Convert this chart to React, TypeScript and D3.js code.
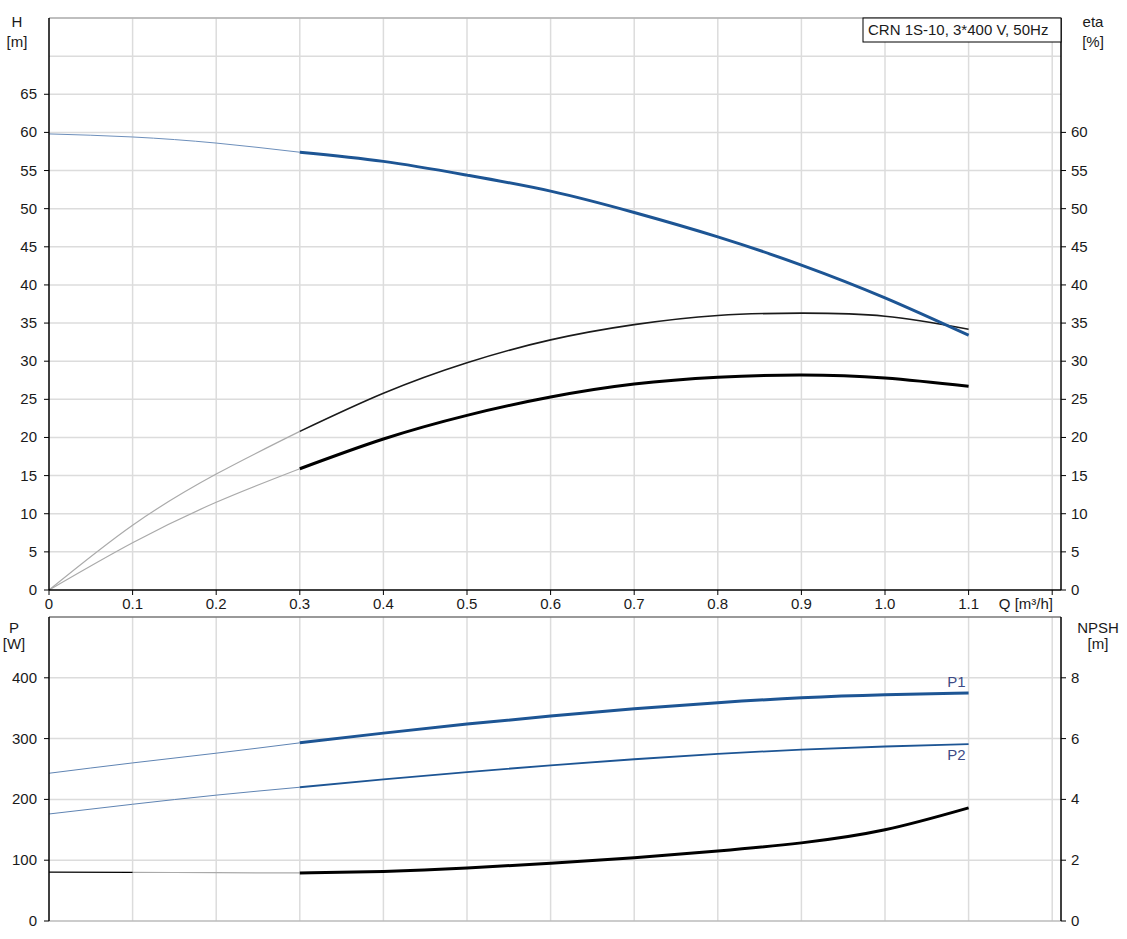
import * as d3 from 'd3'

const qTicks = [0, 0.1, 0.2, 0.3, 0.4, 0.5, 0.6, 0.7, 0.8, 0.9, 1.0, 1.1, 1.2]
const hTicks = [0, 5, 10, 15, 20, 25, 30, 35, 40, 45, 50, 55, 60, 65, 70, 75]
const etaTicks = [0, 5, 10, 15, 20, 25, 30, 35, 40, 45, 50, 55, 60]
const pTicks = [0, 100, 200, 300, 400, 500]
const npshTicks = [0, 2, 4, 6, 8]

// flow points for the main curves
const qThin = [0, 0.1, 0.2, 0.3]
const qMain = [0.3, 0.4, 0.5, 0.6, 0.7, 0.8, 0.9, 1.0, 1.1]

const headThin = [59.8, 59.4, 58.6, 57.4]
const headMain = [57.4, 56.2, 54.4, 52.3, 49.5, 46.3, 42.6, 38.3, 33.4]

const etaPumpThin = [0, 8.5, 15.2, 20.8]
const etaPumpMain = [20.8, 25.8, 29.8, 32.8, 34.8, 36.0, 36.3, 35.9, 34.2]

const etaTotalThin = [0, 6.2, 11.5, 15.9]
const etaTotalMain = [15.9, 19.8, 22.9, 25.3, 27.0, 27.9, 28.2, 27.8, 26.7]

const p1Thin = [243, 260, 276, 293]
const p1Main = [293, 309, 324, 337, 349, 359, 367, 372, 375]

const p2Thin = [176, 192, 207, 220]
const p2Main = [220, 233, 245, 256, 266, 275, 282, 287, 291]

const npshThin = [1.61, 1.6, 1.59, 1.58]
const npshMain = [1.58, 1.63, 1.74, 1.9, 2.08, 2.3, 2.57, 3.0, 3.72]

const FONT = '"Liberation Sans", Arial, sans-serif'
const BLUE = '#1d5594'
const TXT = '#1a1a1a'
const FS = 15

export default function App() {
  const left = 49
  const right = 1061
  const x = d3.scaleLinear().domain([0, (right - left) / 836]).range([left, right])

  const yH = d3.scaleLinear().domain([0, 75]).range([590, 18])
  const yP = d3.scaleLinear().domain([0, 500]).range([921, 617])
  const yN = d3.scaleLinear().domain([0, 10]).range([921, 617])

  const mk = (ys: d3.ScaleLinear<number, number>, qs: number[], vs: number[]) =>
    d3.line<number>()
      .x((_, i) => x(qs[i]))
      .y(v => ys(v))
      .curve(d3.curveNatural)(vs) || ''

  const gridQ = qTicks.filter(q => q > 0)

  return (
    <svg width={1127} height={939} style={{ position: 'absolute', left: 0, top: 0, background: '#fff' }} fontFamily={FONT}>
      {/* ---------- top chart ---------- */}
      <g>
        {gridQ.map(q => (
          <line key={'gq' + q} x1={x(q)} x2={x(q)} y1={18} y2={590} stroke="#dcdcdc" strokeWidth={1.5} />
        ))}
        {hTicks.filter(h => h > 0).map(h => (
          <line key={'gh' + h} x1={left} x2={right} y1={yH(h)} y2={yH(h)} stroke="#dcdcdc" strokeWidth={1.5} />
        ))}
        <line x1={left} x2={right} y1={18} y2={18} stroke="#999" strokeWidth={1} />

        {/* curves */}
        <path d={mk(yH, qThin, etaPumpThin)} fill="none" stroke="#aaa" strokeWidth={1.2} />
        <path d={mk(yH, qThin, etaTotalThin)} fill="none" stroke="#aaa" strokeWidth={1.2} />
        <path d={mk(yH, qThin, headThin)} fill="none" stroke="#6d8fbb" strokeWidth={1} />
        <path d={mk(yH, qMain, etaPumpMain)} fill="none" stroke="#1a1a1a" strokeWidth={1.6} />
        <path d={mk(yH, qMain, etaTotalMain)} fill="none" stroke="#000" strokeWidth={3} />
        <path d={mk(yH, qMain, headMain)} fill="none" stroke={BLUE} strokeWidth={3} />

        {/* axes */}
        <line x1={left} x2={left} y1={18} y2={590} stroke="#000" strokeWidth={1.5} />
        <line x1={right} x2={right} y1={18} y2={590} stroke="#000" strokeWidth={1.5} />
        <line x1={left} x2={right} y1={590} y2={590} stroke="#000" strokeWidth={1.5} />
        {hTicks.filter(h => h <= 65).map(h => (
          <g key={'th' + h}>
            <line x1={left - 5} x2={left} y1={yH(h)} y2={yH(h)} stroke="#000" />
            <text x={37} y={yH(h) + 5} textAnchor="end" fontSize={FS} fill={TXT}>{h}</text>
          </g>
        ))}
        {etaTicks.map(h => (
          <g key={'te' + h}>
            <line x1={right} x2={right + 5} y1={yH(h)} y2={yH(h)} stroke="#000" />
            <text x={1071} y={yH(h) + 5} fontSize={FS} fill={TXT}>{h}</text>
          </g>
        ))}
        {qTicks.map(q => (
          <g key={'tq' + q}>
            <line x1={x(q)} x2={x(q)} y1={590} y2={595} stroke="#000" />
            {q < 1.15 && (
              <text x={x(q)} y={609} textAnchor="middle" fontSize={FS} fill={TXT}>
                {q === 0 ? '0' : q.toFixed(1)}
              </text>
            )}
          </g>
        ))}
        <text x={1053} y={609} textAnchor="end" fontSize={FS} fill={TXT}>Q [m³/h]</text>

        <text x={17} y={27} textAnchor="middle" fontSize={FS} fill={TXT}>H</text>
        <text x={17} y={47} textAnchor="middle" fontSize={FS} fill={TXT}>[m]</text>
        <text x={1093} y={27} textAnchor="middle" fontSize={FS} fill={TXT}>eta</text>
        <text x={1093} y={47} textAnchor="middle" fontSize={FS} fill={TXT}>[%]</text>

        <rect x={863} y={18} width={198} height={24} fill="#fff" stroke="#000" strokeWidth={1} />
        <text x={868} y={35} fontSize={FS} fill={TXT}>CRN 1S-10, 3*400 V, 50Hz</text>
      </g>

      {/* ---------- bottom chart ---------- */}
      <g>
        {gridQ.map(q => (
          <line key={'bq' + q} x1={x(q)} x2={x(q)} y1={617} y2={921} stroke="#dcdcdc" strokeWidth={1.5} />
        ))}
        {pTicks.filter(p => p > 0 && p < 500).map(p => (
          <line key={'bp' + p} x1={left} x2={right} y1={yP(p)} y2={yP(p)} stroke="#dcdcdc" strokeWidth={1.5} />
        ))}
        <line x1={left} x2={right} y1={617} y2={617} stroke="#777" strokeWidth={1.5} />
        <line x1={left} x2={right} y1={921} y2={921} stroke="#bbb" strokeWidth={1.5} />

        <path d={mk(yP, qThin, p1Thin)} fill="none" stroke="#5f84b3" strokeWidth={1} />
        <path d={mk(yP, qThin, p2Thin)} fill="none" stroke="#5f84b3" strokeWidth={1} />
        <path d={mk(yN, qThin.slice(1), npshThin.slice(1))} fill="none" stroke="#aaa" strokeWidth={1.2} />
        <path d={mk(yN, qThin.slice(0, 2), npshThin.slice(0, 2))} fill="none" stroke="#000" strokeWidth={1.2} />
        <path d={mk(yP, qMain, p1Main)} fill="none" stroke={BLUE} strokeWidth={3} />
        <path d={mk(yP, qMain, p2Main)} fill="none" stroke={BLUE} strokeWidth={1.8} />
        <path d={mk(yN, qMain, npshMain)} fill="none" stroke="#000" strokeWidth={3} />

        <text x={x(1.1) - 3} y={yP(p1Main[p1Main.length - 1]) - 6} textAnchor="end" fontSize={FS} fill="#3c4a86">P1</text>
        <text x={x(1.1) - 3} y={yP(p2Main[p2Main.length - 1]) + 16} textAnchor="end" fontSize={FS} fill="#3c4a86">P2</text>

        <line x1={left} x2={left} y1={617} y2={921} stroke="#000" strokeWidth={1.5} />
        <line x1={right} x2={right} y1={617} y2={921} stroke="#000" strokeWidth={1.5} />
        {pTicks.filter(p => p < 500).map(p => (
          <g key={'tp' + p}>
            <line x1={left - 5} x2={left} y1={yP(p)} y2={yP(p)} stroke="#000" />
            <text x={37} y={yP(p) + 5} textAnchor="end" fontSize={FS} fill={TXT}>{p}</text>
          </g>
        ))}
        {npshTicks.map(n => (
          <g key={'tn' + n}>
            <line x1={right} x2={right + 5} y1={yN(n)} y2={yN(n)} stroke="#000" />
            <text x={1071} y={yN(n) + 5} fontSize={FS} fill={TXT}>{n}</text>
          </g>
        ))}

        <text x={14} y={633} textAnchor="middle" fontSize={FS} fill={TXT}>P</text>
        <text x={14} y={649} textAnchor="middle" fontSize={FS} fill={TXT}>[W]</text>
        <text x={1098} y={633} textAnchor="middle" fontSize={FS} fill={TXT}>NPSH</text>
        <text x={1098} y={649} textAnchor="middle" fontSize={FS} fill={TXT}>[m]</text>
      </g>
    </svg>
  )
}
